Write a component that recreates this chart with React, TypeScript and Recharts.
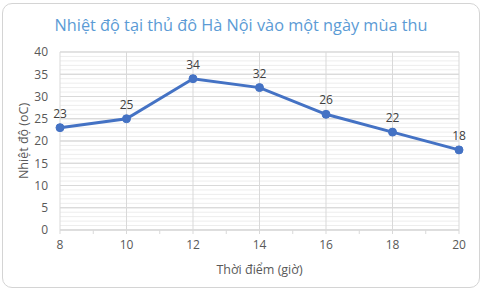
import React from 'react';
import { LineChart, Line, XAxis, YAxis, CartesianGrid, ReferenceLine, LabelList } from 'recharts';

const hours = [8, 10, 12, 14, 16, 18, 20];
const temps = [23, 25, 34, 32, 26, 22, 18];
const xTicks = [8, 9, 10, 11, 12, 13, 14, 15, 16, 17, 18, 19, 20];
const yTicks = [0, 5, 10, 15, 20, 25, 30, 35, 40];
const yMinor = [1, 2, 3, 4, 6, 7, 8, 9, 11, 12, 13, 14, 16, 17, 18, 19, 21, 22, 23, 24, 26, 27, 28, 29, 31, 32, 33, 34, 36, 37, 38, 39];
const xMajor = [8, 10, 12, 14, 16, 18, 20];
const title = 'Nhiệt độ tại thủ đô Hà Nội vào một ngày mùa thu';
const xTitle = 'Thời điểm (giờ)';
const yTitle = 'Nhiệt độ (oC)';

const data = hours.map((h, i) => ({ h, t: temps[i] }));
const font = '"Open Sans", "Noto Sans", sans-serif';

export default function App() {
  return (
    <div style={{ position: 'fixed', left: 0, top: 0, width: 482, height: 291, background: '#fff', fontFamily: font }}>
      <div style={{ position: 'absolute', left: 2, top: 3, width: 476, height: 283, border: '1px solid #d4d4d4', borderRadius: 10, background: '#fff' }} />
      <div style={{ position: 'absolute', left: 0, top: 14, width: 482, textAlign: 'center', color: '#5b9bd5', fontSize: 16.3 }}>{title}</div>
      <div style={{ position: 'absolute', left: 0, top: 0 }}>
        <LineChart width={482} height={291} data={data} margin={{ top: 52, right: 23, bottom: 0, left: 20 }}>
          <CartesianGrid vertical={false} stroke="#d9d9d9" />
          {yMinor.map((v) => (
            <ReferenceLine key={'m' + v} y={v} stroke="#ededed" strokeWidth={1} ifOverflow="hidden" />
          ))}
          {yTicks.map((v) => (
            <ReferenceLine key={'M' + v} y={v} stroke="#d9d9d9" strokeWidth={1} />
          ))}
          {xMajor.map((v) => (
            <ReferenceLine key={'x' + v} x={v} stroke="#d9d9d9" strokeWidth={1} />
          ))}
          <XAxis
            dataKey="h"
            type="number"
            domain={[8, 20]}
            ticks={xTicks}
            interval={0}
            height={61}
            tickFormatter={(v: number) => (v % 2 === 0 ? String(v) : '')}
            axisLine={{ stroke: '#d9d9d9' }}
            tickLine={{ stroke: '#d9d9d9' }}
            tickSize={4}
            tickMargin={6}
            tick={{ fill: '#595959', fontSize: 12, fontFamily: font }}
            label={{ value: xTitle, position: 'insideBottom', offset: 17, fill: '#595959', fontSize: 12.5, fontFamily: font }}
          />
          <YAxis
            type="number"
            domain={[0, 40]}
            ticks={yTicks}
            interval={0}
            width={40}
            axisLine={false}
            tickLine={false}
            tickSize={0}
            tickMargin={12}
            tick={{ fill: '#595959', fontSize: 12, fontFamily: font }}
            label={{ value: yTitle, angle: -90, position: 'insideLeft', offset: 4, style: { textAnchor: 'middle' }, fill: '#595959', fontSize: 12.5, fontFamily: font }}
          />
          <Line
            dataKey="t"
            stroke="#4472c4"
            strokeWidth={3}
            dot={{ r: 4, fill: '#4472c4', stroke: '#4472c4', strokeWidth: 1 }}
            isAnimationActive={false}
          >
            <LabelList dataKey="t" position="top" offset={10} fill="#404040" fontSize={12} fontFamily={font} />
          </Line>
        </LineChart>
      </div>
    </div>
  );
}
